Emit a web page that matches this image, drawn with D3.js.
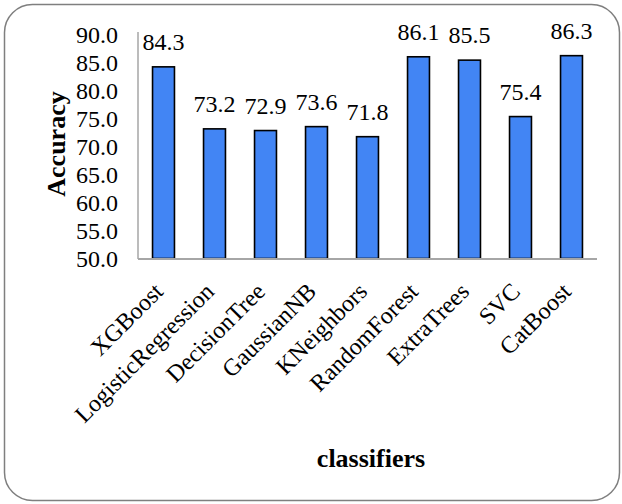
<!DOCTYPE html>
<html><head><meta charset="utf-8">
<script src="https://cdn.jsdelivr.net/npm/d3@7"></script>
<style>html,body{margin:0;padding:0;background:#fff;}</style>
</head><body>
<script>
const categories = ["XGBoost","LogisticRegression","DecisionTree","GaussianNB","KNeighbors","RandomForest","ExtraTrees","SVC","CatBoost"];
const accuracy = [84.3,73.2,72.9,73.6,71.8,86.1,85.5,75.4,86.3];
const yTicks = [50,55,60,65,70,75,80,85,90];
const yTitle = "Accuracy";
const xTitle = "classifiers";

const W = 622, H = 504;
const font = "'Liberation Serif','Times New Roman',serif";
const svg = d3.select("body").append("svg").attr("width", W).attr("height", H)
  .attr("font-family", font);
svg.append("rect").attr("x",4.5).attr("y",4.5).attr("width",615).attr("height",496)
  .attr("rx",28).attr("ry",28).attr("fill","#fff").attr("stroke","#7f7f7f").attr("stroke-width",1.5);

const x = d3.scaleBand().domain(categories).range([138,597]).paddingInner(0.57).paddingOuter(0.285);
const y = d3.scaleLinear().domain([50,90]).range([258.5,35]);

// bars
svg.selectAll("rect.bar").data(accuracy).enter().append("rect").attr("class","bar")
  .attr("x",(d,i)=>x(categories[i])).attr("width",x.bandwidth())
  .attr("y",d=>y(d)).attr("height",d=>y(50)-y(d))
  .attr("fill","#4285f4").attr("stroke","#000").attr("stroke-width",1.6);

// axes
const yAxis = svg.append("g").attr("transform","translate(138,0)")
  .call(d3.axisLeft(y).tickValues(yTicks).tickSize(0).tickPadding(20).tickFormat(d3.format(".1f")));
yAxis.attr("font-family", font);
yAxis.select(".domain").attr("stroke","#a6a6a6").attr("stroke-width",1.5).attr("d","M0,32V259");
yAxis.selectAll("text").attr("font-family",font).attr("font-size",24).attr("fill","#000");

const xAxis = svg.append("g").attr("transform","translate(0,259)")
  .call(d3.axisBottom(x).tickSize(0).tickFormat(""));
xAxis.select(".domain").attr("stroke","#a6a6a6").attr("stroke-width",2).attr("d","M138,0H597");

// x labels rotated
svg.selectAll("text.xl").data(categories).enter().append("text").attr("class","xl")
  .attr("transform",d=>`translate(${x(d)+x.bandwidth()/2+1},${293}) rotate(-45)`)
  .attr("text-anchor","end").attr("font-size",24).attr("fill","#000")
  .text(d=>d);

// value labels
svg.selectAll("text.vl").data(accuracy).enter().append("text").attr("class","vl")
  .attr("x",(d,i)=>x(categories[i])+x.bandwidth()/2).attr("y",d=>y(d)-17)
  .attr("text-anchor","middle").attr("font-size",24).attr("fill","#000")
  .text(d=>d3.format(".1f")(d));

// titles
svg.append("text").attr("transform","translate(65,144) rotate(-90)").attr("text-anchor","middle")
  .attr("font-weight","bold").attr("font-size",26).text(yTitle);
svg.append("text").attr("x",371).attr("y",467).attr("text-anchor","middle")
  .attr("font-weight","bold").attr("font-size",26).text(xTitle);
</script>
</body></html>
